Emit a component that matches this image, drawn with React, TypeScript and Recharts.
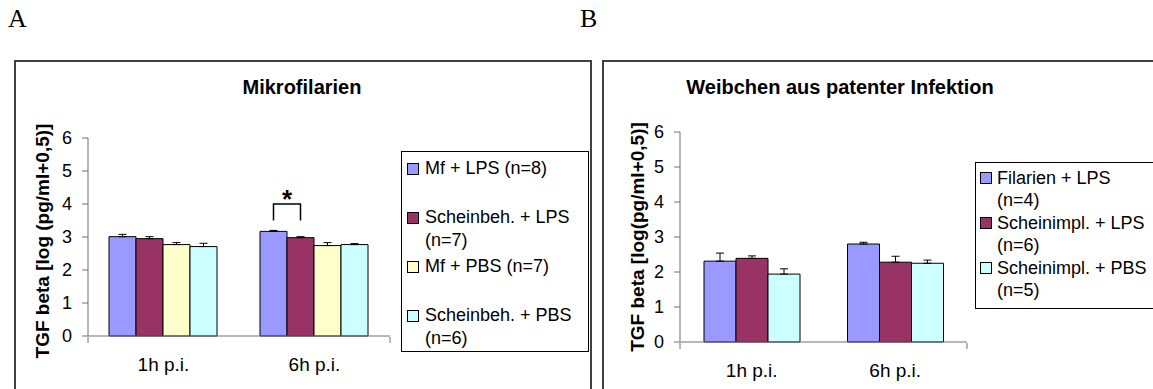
import React from "react";
import { Bar, BarChart, ErrorBar, LabelList, Legend, XAxis, YAxis } from "recharts";

const FONT = "'Liberation Sans', Arial, Helvetica, sans-serif";
const SERIF = "'Liberation Serif', 'Times New Roman', serif";
const AXIS = "#707070";

const CATEGORIES = ["1h p.i.", "6h p.i."];
const Y_TICKS = [0, 1, 2, 3, 4, 5, 6];
const BOUNDS = [0, 1, 2];

// A: Mikrofilarien
const A_TITLE = "Mikrofilarien";
const A_YLABEL = "TGF beta [log (pg/ml+0,5)]";
const A_NAMES = ["Mf + LPS (n=8)", "Scheinbeh. + LPS (n=7)", "Mf + PBS (n=7)", "Scheinbeh. + PBS (n=6)"];
const A_COLORS = ["#9999ff", "#993366", "#ffffcc", "#ccffff"];
const A_MF_LPS = [3.01, 3.17];
const A_MF_LPS_ERR = [0.07, 0.03];
const A_SCHEIN_LPS = [2.95, 2.98];
const A_SCHEIN_LPS_ERR = [0.06, 0.03];
const A_MF_PBS = [2.77, 2.74];
const A_MF_PBS_ERR = [0.06, 0.09];
const A_SCHEIN_PBS = [2.71, 2.77];
const A_SCHEIN_PBS_ERR = [0.1, 0.03];
// significance bracket between Mf + LPS and Scheinbeh. + LPS
const A_SIG_TOP = [null, 4.0];
const A_SIG_LEG = 3.5;

// B: Weibchen aus patenter Infektion
const B_TITLE = "Weibchen aus patenter Infektion";
const B_YLABEL = "TGF beta [log(pg/ml+0,5)]";
const B_NAMES = ["Filarien + LPS (n=4)", "Scheinimpl. + LPS (n=6)", "Scheinimpl. + PBS (n=5)"];
const B_COLORS = ["#9999ff", "#993366", "#ccffff"];
const B_FIL_LPS = [2.31, 2.8];
const B_FIL_LPS_ERR = [0.23, 0.05];
const B_SCHEIN_LPS = [2.39, 2.28];
const B_SCHEIN_LPS_ERR = [0.07, 0.17];
const B_SCHEIN_PBS = [1.94, 2.25];
const B_SCHEIN_PBS_ERR = [0.15, 0.09];

function buildRows(values: number[][], errs: number[][]) {
  return CATEGORIES.map((cat, i) => {
    const row: Record<string, unknown> = { cat };
    values.forEach((v, s) => {
      row[`s${s}`] = v[i];
      row[`e${s}`] = [0, errs[s][i]];
    });
    return row;
  });
}

const A_ROWS = buildRows(
  [A_MF_LPS, A_SCHEIN_LPS, A_MF_PBS, A_SCHEIN_PBS],
  [A_MF_LPS_ERR, A_SCHEIN_LPS_ERR, A_MF_PBS_ERR, A_SCHEIN_PBS_ERR]
);
const B_ROWS = buildRows(
  [B_FIL_LPS, B_SCHEIN_LPS, B_SCHEIN_PBS],
  [B_FIL_LPS_ERR, B_SCHEIN_LPS_ERR, B_SCHEIN_PBS_ERR]
);

function YLabel(props: any) {
  const { viewBox, text, dx = 0, dy = 0 } = props;
  const cx = viewBox.x + viewBox.width / 2 + dx;
  const cy = viewBox.y + viewBox.height / 2 + dy;
  return (
    <text
      x={cx}
      y={cy}
      transform={`rotate(-90 ${cx} ${cy})`}
      textAnchor="middle"
      dominantBaseline="central"
      fontFamily={FONT}
      fontWeight="bold"
      fontSize={19}
      fill="#000"
    >
      {text}
    </text>
  );
}

function EmptyTick() {
  return <g />;
}

// bracket + asterisk drawn on the first bar of a category, spanning to the next bar
function SigBracket(props: any) {
  const vb = props.viewBox ?? props;
  const { index } = props;
  const top = A_SIG_TOP[index];
  if (top == null) return null;
  const v = A_MF_LPS[index];
  const zero = vb.y + vb.height;
  const k = vb.height / v;
  const yTop = zero - top * k;
  const yLeg = zero - A_SIG_LEG * k;
  const x1 = vb.x + vb.width / 2;
  const x2 = vb.x + vb.width * 1.5;
  return (
    <g>
      <path d={`M${x1},${yLeg} V${yTop} H${x2} V${yLeg}`} fill="none" stroke="#000" strokeWidth={1.5} />
      <text x={(x1 + x2) / 2} y={yTop + 4} textAnchor="middle" fontFamily={FONT} fontWeight="bold" fontSize={26} fill="#000">
        *
      </text>
    </g>
  );
}

type LegendCfg = {
  left: number;
  top: number;
  width: number;
  height: number;
  padTop: number;
  padLeft: number;
  rowH: number;
  lineH: number;
  textW: number;
  gap: number;
};

function LegendBox({ payload, cfg, order }: { payload?: any[]; cfg: LegendCfg; order: string[] }) {
  const items = [...(payload ?? [])].sort((a, b) => order.indexOf(a.value) - order.indexOf(b.value));
  return (
    <div
      style={{
        boxSizing: "border-box",
        width: cfg.width,
        height: cfg.height,
        border: "1px solid #000",
        background: "#fff",
        paddingTop: cfg.padTop,
        paddingLeft: cfg.padLeft,
        fontFamily: FONT,
        fontSize: 18,
        color: "#000",
      }}
    >
      {items.map((p) => (
        <div key={p.value} style={{ display: "flex", height: cfg.rowH, alignItems: "flex-start" }}>
          <div
            style={{
              width: 10,
              height: 10,
              marginTop: (cfg.lineH - 12) / 2,
              border: "1px solid #000",
              background: p.color,
              flex: "none",
            }}
          />
          <div style={{ marginLeft: cfg.gap, width: cfg.textW, lineHeight: `${cfg.lineH}px` }}>{p.value}</div>
        </div>
      ))}
    </div>
  );
}

type PanelProps = {
  left: number;
  width: number;
  margin: { top: number; right: number; bottom: number; left: number };
  yWidth: number;
  gap: number;
  rows: Record<string, unknown>[];
  names: string[];
  colors: string[];
  yLabel: string;
  labelDx: number;
  labelDy: number;
  legend: LegendCfg;
  bracket?: boolean;
};

function Panel(p: PanelProps) {
  return (
    <div style={{ position: "absolute", left: p.left, top: 0 }}>
      <BarChart
        width={p.width}
        height={389}
        data={p.rows}
        margin={p.margin}
        barCategoryGap={p.gap}
        barGap={0}
      >
        <XAxis
          dataKey="cat"
          height={1}
          stroke={AXIS}
          tickLine={false}
          tickSize={0}
          tickMargin={22}
          tick={{ fill: "#000", fontSize: 19, fontFamily: FONT }}
        />
        <XAxis
          xAxisId="bounds"
          type="number"
          domain={[0, CATEGORIES.length]}
          ticks={BOUNDS}
          height={1}
          axisLine={false}
          tickSize={6}
          tickLine={{ stroke: AXIS }}
          tick={<EmptyTick />}
        />
        <YAxis
          domain={[0, 6]}
          ticks={Y_TICKS}
          width={p.yWidth}
          stroke={AXIS}
          tickSize={6}
          tickMargin={10}
          tick={{ fill: "#000", fontSize: 18, fontFamily: FONT }}
          label={<YLabel text={p.yLabel} dx={p.labelDx} dy={p.labelDy} />}
        />
        <Legend
          layout="vertical"
          align="center"
          verticalAlign="middle"
          wrapperStyle={{ left: p.legend.left, top: p.legend.top, width: p.legend.width, height: p.legend.height }}
          content={(lp: any) => <LegendBox payload={lp.payload} cfg={p.legend} order={p.names} />}
        />
        {p.names.map((name, s) => (
          <Bar
            key={name}
            dataKey={`s${s}`}
            name={name}
            fill={p.colors[s]}
            stroke="#000"
            strokeWidth={1}
            isAnimationActive={false}
          >
            <ErrorBar dataKey={`e${s}`} width={4} stroke="#000" strokeWidth={1} direction="y" />
            {p.bracket && s === 0 ? <LabelList dataKey={`s${s}`} content={SigBracket} /> : null}
          </Bar>
        ))}
      </BarChart>
    </div>
  );
}

export default function App() {
  return (
    <div
      style={{
        position: "absolute",
        left: 0,
        top: 0,
        width: 1153,
        height: 389,
        overflow: "hidden",
        background: "#fff",
      }}
    >
      <div style={{ position: "absolute", left: 8, top: 6, fontFamily: SERIF, fontSize: 26, lineHeight: "26px" }}>A</div>
      <div style={{ position: "absolute", left: 580, top: 6, fontFamily: SERIF, fontSize: 26, lineHeight: "26px" }}>B</div>

      <div style={{ position: "absolute", left: 14, top: 60, width: 578, height: 360, boxSizing: "border-box", border: "2px solid #404040" }} />
      <div style={{ position: "absolute", left: 602, top: 60, width: 570, height: 360, boxSizing: "border-box", border: "2px solid #404040" }} />

      <div style={{ position: "absolute", left: 102, width: 400, top: 77, textAlign: "center", fontFamily: FONT, fontWeight: "bold", fontSize: 20, lineHeight: "20px" }}>
        {A_TITLE}
      </div>
      <div style={{ position: "absolute", left: 640, width: 400, top: 77, textAlign: "center", fontFamily: FONT, fontWeight: "bold", fontSize: 20, lineHeight: "20px" }}>
        {B_TITLE}
      </div>

      <Panel
        left={0}
        width={592}
        margin={{ top: 138, right: 202, bottom: 51, left: 0 }}
        yWidth={88}
        gap={21}
        rows={A_ROWS}
        names={A_NAMES}
        colors={A_COLORS}
        yLabel={A_YLABEL}
        labelDx={-2}
        labelDy={4}
        legend={{ left: 401, top: 151, width: 188, height: 201, padTop: 5, padLeft: 5, rowH: 49, lineH: 23, textW: 160, gap: 6 }}
        bracket
      />
      <Panel
        left={602}
        width={551}
        margin={{ top: 132, right: 186, bottom: 45, left: 0 }}
        yWidth={78}
        gap={24}
        rows={B_ROWS}
        names={B_NAMES}
        colors={B_COLORS}
        yLabel={B_YLABEL}
        labelDx={-4}
        labelDy={0}
        legend={{ left: 373, top: 162, width: 200, height: 147, padTop: 4, padLeft: 4, rowH: 45, lineH: 22, textW: 156, gap: 5 }}
      />
    </div>
  );
}
